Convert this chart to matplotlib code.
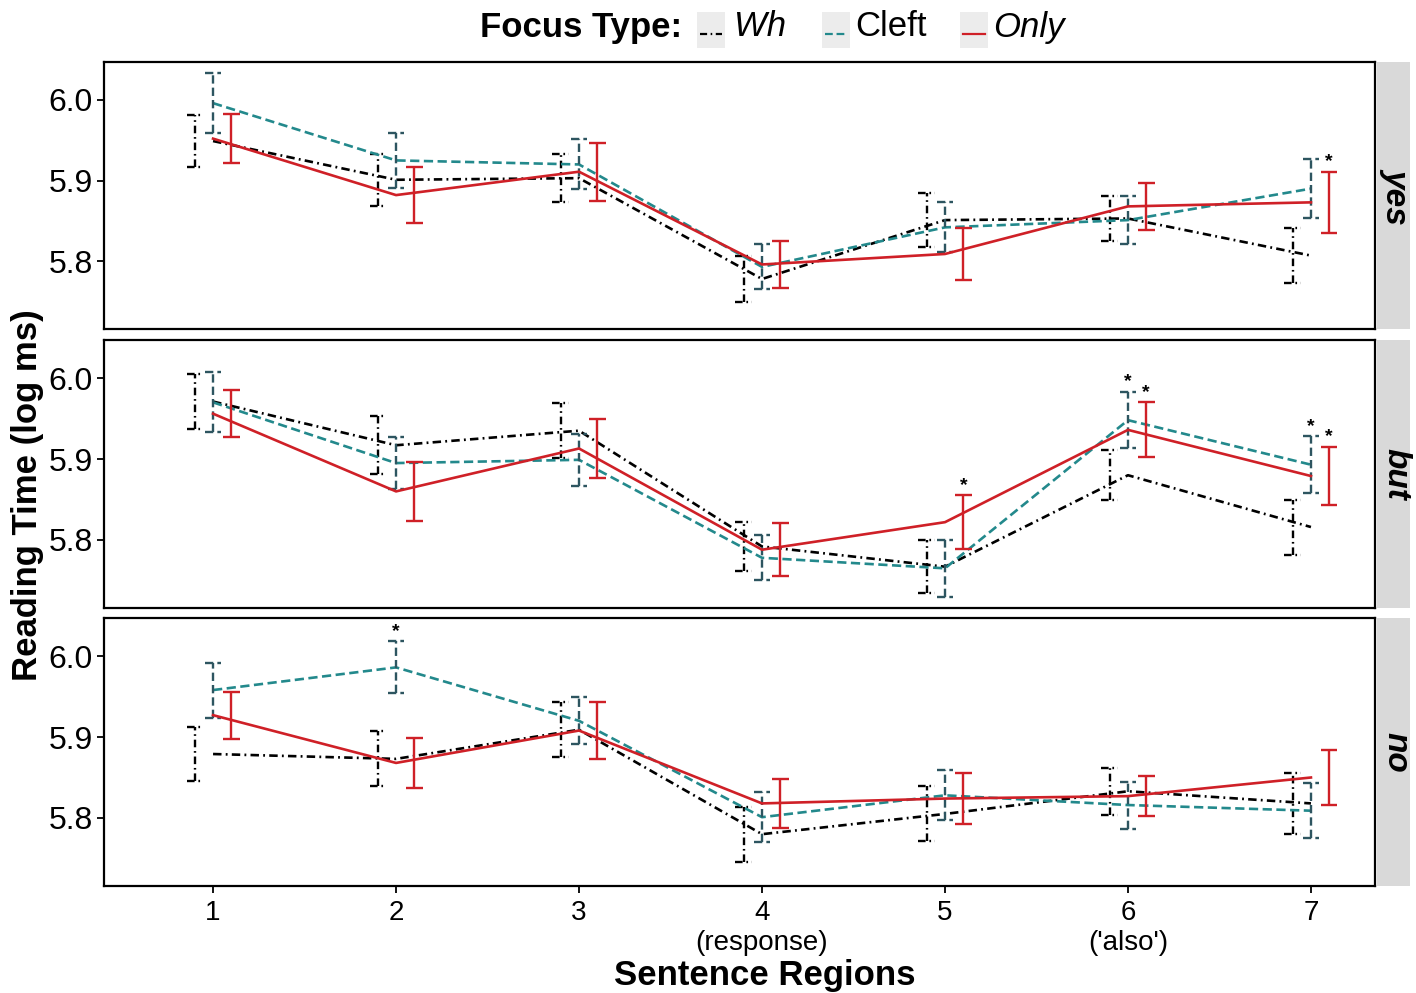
import matplotlib
matplotlib.use("Agg")
import matplotlib.pyplot as plt
from matplotlib.lines import Line2D
from matplotlib.patches import Rectangle
import numpy as np

plt.rcParams['font.family'] = ['Liberation Sans', 'DejaVu Sans']

regions = [1, 2, 3, 4, 5, 6, 7]
region_labels = ['1', '2', '3', '4\n(response)', '5', "6\n('also')", '7']
panels = ['yes', 'but', 'no']
focus_types = ['Wh', 'Cleft', 'Only']

# mean reading time (log ms) per region
yes_wh = [5.949, 5.901, 5.903, 5.778, 5.851, 5.853, 5.807]
yes_cleft = [5.996, 5.925, 5.920, 5.793, 5.842, 5.851, 5.890]
yes_only = [5.952, 5.882, 5.911, 5.796, 5.809, 5.868, 5.873]
but_wh = [5.971, 5.917, 5.935, 5.792, 5.767, 5.880, 5.816]
but_cleft = [5.970, 5.895, 5.899, 5.778, 5.765, 5.948, 5.893]
but_only = [5.956, 5.860, 5.913, 5.788, 5.822, 5.936, 5.879]
no_wh = [5.879, 5.873, 5.909, 5.780, 5.805, 5.833, 5.818]
no_cleft = [5.958, 5.986, 5.920, 5.801, 5.828, 5.816, 5.809]
no_only = [5.927, 5.868, 5.908, 5.818, 5.824, 5.827, 5.850]

# error bar half widths
yes_wh_err = [0.032, 0.032, 0.030, 0.028, 0.033, 0.028, 0.034]
yes_cleft_err = [0.037, 0.034, 0.031, 0.028, 0.031, 0.030, 0.037]
yes_only_err = [0.030, 0.035, 0.036, 0.029, 0.032, 0.029, 0.038]
but_wh_err = [0.034, 0.036, 0.034, 0.030, 0.033, 0.031, 0.034]
but_cleft_err = [0.037, 0.032, 0.032, 0.028, 0.035, 0.035, 0.035]
but_only_err = [0.029, 0.036, 0.036, 0.033, 0.033, 0.034, 0.036]
no_wh_err = [0.033, 0.034, 0.034, 0.034, 0.034, 0.029, 0.038]
no_cleft_err = [0.034, 0.032, 0.029, 0.031, 0.031, 0.029, 0.034]
no_only_err = [0.029, 0.031, 0.035, 0.030, 0.031, 0.025, 0.034]

# significance marks: (panel, focus type, region)
sig_marks = [('yes', 'Only', 7), ('but', 'Only', 5), ('but', 'Cleft', 6),
             ('but', 'Only', 6), ('but', 'Cleft', 7), ('but', 'Only', 7),
             ('no', 'Cleft', 2)]

means = {
    'yes': {'Wh': yes_wh, 'Cleft': yes_cleft, 'Only': yes_only},
    'but': {'Wh': but_wh, 'Cleft': but_cleft, 'Only': but_only},
    'no': {'Wh': no_wh, 'Cleft': no_cleft, 'Only': no_only},
}
errs = {
    'yes': {'Wh': yes_wh_err, 'Cleft': yes_cleft_err, 'Only': yes_only_err},
    'but': {'Wh': but_wh_err, 'Cleft': but_cleft_err, 'Only': but_only_err},
    'no': {'Wh': no_wh_err, 'Cleft': no_cleft_err, 'Only': no_only_err},
}

styles = {
    'Wh': dict(color='black', err_color='black', ls=(0, (3.2, 1.6, 0.7, 1.6)), dodge=-0.1),
    'Cleft': dict(color='#23898c', err_color='#2d5560', ls=(0, (3.5, 1.7)), dodge=0.0),
    'Only': dict(color='#cf2027', err_color='#cf2027', ls='-', dodge=0.1),
}
LW = 1.9

W, H = 1416, 993
fig = plt.figure(figsize=(W / 100, H / 100), dpi=100)


def fx(px):
    return px / W


def fy(py):
    return 1 - py / H


panel_px = [(62, 329), (340, 608), (618, 886)]
left_px, right_px, strip_px = 104, 1375, 1410
cap = 0.045

for i, (panel, (top, bot)) in enumerate(zip(panels, panel_px)):
    ax = fig.add_axes([fx(left_px), fy(bot), fx(right_px) - fx(left_px), fy(top) - fy(bot)])
    for ft in focus_types:
        st = styles[ft]
        m = np.array(means[panel][ft])
        e = np.array(errs[panel][ft])
        x = np.array(regions, dtype=float)
        xe = x + st['dodge']
        ax.plot(x, m, color=st['color'], lw=LW, linestyle=st['ls'], zorder=3)
        ax.vlines(xe, m - e, m + e, colors=st['err_color'], lw=LW * 0.9, linestyles=[st['ls']], zorder=3)
        ax.hlines(m + e, xe - cap, xe + cap, colors=st['err_color'], lw=LW * 0.9, linestyles=[st['ls']], zorder=3)
        ax.hlines(m - e, xe - cap, xe + cap, colors=st['err_color'], lw=LW * 0.9, linestyles=[st['ls']], zorder=3)
    for p, ft, r in sig_marks:
        if p != panel:
            continue
        idx = regions.index(r)
        top_val = means[p][ft][idx] + errs[p][ft][idx]
        ax.text(r + styles[ft]['dodge'], top_val + 0.002, '*', ha='center', va='bottom',
                fontsize=14, fontweight='bold', color='black')
    ax.set_xlim(0.404, 7.35)
    ax.set_ylim(5.716, 6.047)
    ax.set_yticks([5.8, 5.9, 6.0])
    ax.set_yticklabels(['5.8', '5.9', '6.0'], fontsize=23)
    ax.tick_params(axis='y', length=5, width=1.3, pad=3)
    ax.set_xticks(regions)
    if i < 2:
        ax.tick_params(axis='x', length=0, labelbottom=False)
    else:
        ax.set_xticklabels(region_labels, fontsize=20, linespacing=1.2)
        ax.tick_params(axis='x', length=5, width=1.3, pad=5)
    for sp in ax.spines.values():
        sp.set_linewidth(1.6)
    # facet strip
    sax = fig.add_axes([fx(right_px + 2), fy(bot), fx(strip_px) - fx(right_px + 2), fy(top) - fy(bot)])
    sax.set_facecolor('#d9d9d9')
    sax.set_xticks([])
    sax.set_yticks([])
    for sp in sax.spines.values():
        sp.set_visible(False)
    sax.text(0.58, 0.5, panel, rotation=-90, ha='center', va='center', fontsize=24,
             fontweight='bold', fontstyle='italic', transform=sax.transAxes)

fig.text(fx(28), fy(495), 'Reading Time (log ms)', rotation=90, ha='center', va='center',
         fontsize=25, fontweight='bold')
fig.text(fx(765), fy(975), 'Sentence Regions', ha='center', va='center',
         fontsize=25, fontweight='bold')

# legend on top
fig.text(fx(581), fy(27), 'Focus Type:', ha='center', va='center', fontsize=25, fontweight='bold')
legend_items = [('Wh', 697, 734, 'italic'), ('Cleft', 822, 855, 'normal'), ('Only', 960, 993, 'italic')]
for ft, box_x, txt_x, style in legend_items:
    st = styles[ft]
    fig.add_artist(Rectangle((fx(box_x), fy(48)), fx(28), fy(12) - fy(48),
                             transform=fig.transFigure, facecolor='#ececec', edgecolor='none'))
    fig.add_artist(Line2D([fx(box_x + 3), fx(box_x + 25)], [fy(34), fy(34)], transform=fig.transFigure,
                          color=st['color'], lw=1.6, linestyle=st['ls']))
    fig.text(fx(txt_x), fy(27), ft, ha='left', va='center', fontsize=25, fontstyle=style)

fig.savefig('out.png', dpi=100)
